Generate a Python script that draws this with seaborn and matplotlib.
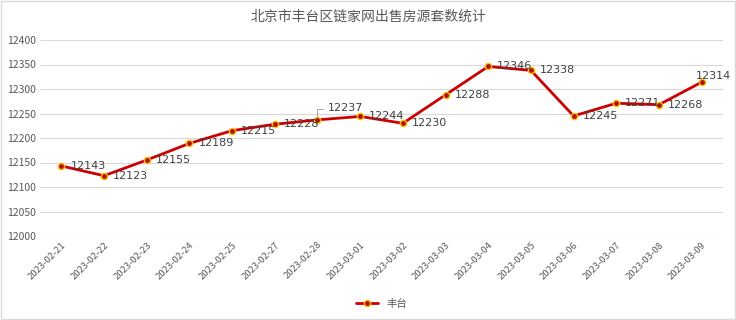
import matplotlib
matplotlib.use("Agg")
import matplotlib.pyplot as plt
import seaborn as sns
import pandas as pd

dates = ["2023-02-21", "2023-02-22", "2023-02-23", "2023-02-24", "2023-02-25",
         "2023-02-27", "2023-02-28", "2023-03-01", "2023-03-02", "2023-03-03",
         "2023-03-04", "2023-03-05", "2023-03-06", "2023-03-07", "2023-03-08",
         "2023-03-09"]
values = [12143, 12123, 12155, 12189, 12215, 12228, 12237, 12244, 12230, 12288,
          12346, 12338, 12245, 12271, 12268, 12314]
series_name = "丰台"
title = "北京市丰台区链家网出售房源套数统计"
yticks = [12000, 12050, 12100, 12150, 12200, 12250, 12300, 12350, 12400]

sns.set_theme(style="white")
plt.rcParams['font.family'] = ['Noto Sans CJK SC', 'DejaVu Sans']

df = pd.DataFrame({"date": dates, "value": values, "series": series_name})
df["x"] = range(len(df))

fig = plt.figure(figsize=(7.36, 3.2), dpi=100)
ax = fig.add_axes([40/736, 1-236/320, (723-40)/736, (236-40)/320])

for y in yticks:
    ax.axhline(y, color="#d9d9d9", lw=0.8, zorder=0)

sns.lineplot(data=df, x="x", y="value", hue="series", palette=["#cc0000"],
             lw=2, marker="o", markersize=4.5, markerfacecolor="#b01010",
             markeredgecolor="#ffc000", markeredgewidth=1.0, ax=ax, zorder=3)

ax.set_xlim(-0.5, len(dates) - 0.5)
ax.set_ylim(12000, 12400)
ax.set_yticks(yticks)
ax.set_yticklabels([str(v) for v in yticks], fontsize=7.5, color="#595959")
ax.set_xticks(range(len(dates)))
ax.set_xticklabels(dates, rotation=45, ha="right", rotation_mode="anchor",
                   fontsize=6.8, color="#595959")
ax.tick_params(axis="both", length=0, pad=3)
ax.set_xlabel("")
ax.set_ylabel("")
for s in ax.spines.values():
    s.set_visible(False)

offsets = {i: (9, 0) for i in range(len(values))}
offsets[6] = (10, 12)
offsets[15] = (-6, 6)
for i, v in enumerate(values):
    dx, dy = offsets[i]
    ax.annotate(str(v), (i, v), xytext=(dx, dy), textcoords="offset pixels",
                ha="left", va="center", fontsize=8, color="#404040",
                family=["DejaVu Sans"], zorder=4)
# leader line for 12237
ax.annotate("", (6, values[6]), xytext=(8, 11), textcoords="offset pixels",
            arrowprops=dict(arrowstyle="-", color="#a6a6a6", lw=0.7,
                            connectionstyle="angle,angleA=0,angleB=90,rad=0"))

fig.suptitle(title, y=1-17/320, va="center", fontsize=10, color="#595959")

leg = ax.legend(loc="center", bbox_to_anchor=(0.5, (304-236)/-196), frameon=False,
                fontsize=7.5, handlelength=2.2, borderaxespad=0)
for t in leg.get_texts():
    t.set_color("#595959")

fig.patches.append(plt.Rectangle((0.001, 0.002), 0.997, 0.995, transform=fig.transFigure,
                                 fill=False, edgecolor="#d9d9d9", lw=1))
fig.savefig("out.png", dpi=100)
